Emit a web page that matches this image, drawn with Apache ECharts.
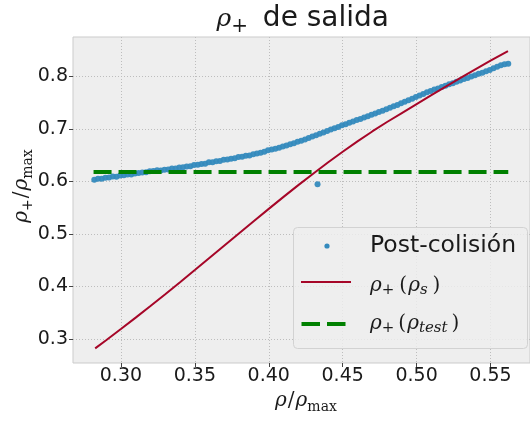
<!DOCTYPE html>
<html>
<head>
<meta charset="utf-8">
<script src="https://cdn.jsdelivr.net/npm/echarts@6/dist/echarts.min.js"></script>
<style>
  html, body { margin: 0; padding: 0; background: #ffffff; }
  #chart { width: 530px; height: 421px; }
</style>
</head>
<body>
<div id="chart"></div>
<script>
// Post-collision samples: [rho/rho_max, rho_plus/rho_max]
const postColision = [
  [0.2820, 0.6030], [0.2845, 0.6052], [0.2870, 0.6048], [0.2895, 0.6071], [0.2920, 0.6075],
  [0.2945, 0.6093], [0.2970, 0.6090], [0.2995, 0.6112], [0.3020, 0.6115], [0.3045, 0.6133],
  [0.3070, 0.6130], [0.3095, 0.6152], [0.3120, 0.6158], [0.3145, 0.6171], [0.3170, 0.6175],
  [0.3195, 0.6193], [0.3220, 0.6196], [0.3245, 0.6212], [0.3270, 0.6205], [0.3295, 0.6223],
  [0.3320, 0.6226], [0.3345, 0.6244], [0.3370, 0.6243], [0.3395, 0.6262], [0.3420, 0.6268],
  [0.3445, 0.6285], [0.3470, 0.6289], [0.3495, 0.6310], [0.3520, 0.6315], [0.3545, 0.6330],
  [0.3570, 0.6337], [0.3595, 0.6362], [0.3620, 0.6365], [0.3645, 0.6383], [0.3670, 0.6388],
  [0.3695, 0.6413], [0.3720, 0.6415], [0.3745, 0.6432], [0.3770, 0.6438], [0.3795, 0.6463],
  [0.3820, 0.6468], [0.3845, 0.6488], [0.3870, 0.6492], [0.3895, 0.6518], [0.3920, 0.6530],
  [0.3945, 0.6545], [0.3970, 0.6562], [0.3995, 0.6592], [0.4020, 0.6605], [0.4045, 0.6622],
  [0.4070, 0.6640], [0.4095, 0.6665], [0.4120, 0.6685], [0.4145, 0.6705], [0.4170, 0.6728],
  [0.4195, 0.6752], [0.4220, 0.6775], [0.4245, 0.6795], [0.4270, 0.6825], [0.4295, 0.6852],
  [0.4320, 0.6878], [0.4345, 0.6905], [0.4370, 0.6930], [0.4395, 0.6958], [0.4420, 0.6985],
  [0.4445, 0.7012], [0.4470, 0.7035], [0.4495, 0.7068], [0.4520, 0.7085], [0.4545, 0.7118],
  [0.4570, 0.7138], [0.4595, 0.7168], [0.4620, 0.7185], [0.4645, 0.7218], [0.4670, 0.7238],
  [0.4695, 0.7268], [0.4720, 0.7292], [0.4745, 0.7322], [0.4770, 0.7345], [0.4795, 0.7375],
  [0.4820, 0.7402], [0.4845, 0.7428], [0.4870, 0.7455], [0.4895, 0.7485], [0.4920, 0.7515],
  [0.4945, 0.7542], [0.4970, 0.7572], [0.4995, 0.7605], [0.5020, 0.7635], [0.5045, 0.7662],
  [0.5070, 0.7695], [0.5095, 0.7722], [0.5120, 0.7748], [0.5145, 0.7770], [0.5170, 0.7798],
  [0.5195, 0.7822], [0.5220, 0.7848], [0.5245, 0.7868], [0.5270, 0.7898], [0.5295, 0.7922],
  [0.5320, 0.7948], [0.5345, 0.7968], [0.5370, 0.7998], [0.5395, 0.8022], [0.5420, 0.8048],
  [0.5445, 0.8068], [0.5470, 0.8098], [0.5495, 0.8122], [0.5520, 0.8155], [0.5545, 0.8182],
  [0.5570, 0.8212], [0.5595, 0.8228], [0.5620, 0.8240],
  [0.4330, 0.5944]
];

// Theoretical curve rho_+(rho_s)
const rhoPlusS = [
  [0.2826, 0.2822], [0.2900, 0.2977], [0.3000, 0.3190], [0.3100, 0.3407], [0.3200, 0.3628],
  [0.3300, 0.3853], [0.3400, 0.4081], [0.3500, 0.4312], [0.3600, 0.4545], [0.3700, 0.4779],
  [0.3800, 0.5013], [0.3900, 0.5246], [0.4000, 0.5477], [0.4100, 0.5705], [0.4200, 0.5929],
  [0.4300, 0.6146], [0.4400, 0.6358], [0.4500, 0.6564], [0.4600, 0.6762], [0.4700, 0.6950],
  [0.4800, 0.7130], [0.4900, 0.7300], [0.5000, 0.7470], [0.5100, 0.7640], [0.5200, 0.7808],
  [0.5300, 0.7974], [0.5400, 0.8138], [0.5500, 0.8298], [0.5618, 0.8480]
];

// Constant level rho_+(rho_test)
const rhoTestLevel = 0.6178;
const rhoTestRange = [0.2815, 0.5620];

const xTicks = [0.30, 0.35, 0.40, 0.45, 0.50, 0.55];
const yTicks = [0.3, 0.4, 0.5, 0.6, 0.7, 0.8];

const BLUE = '#348ABD';
const RED = '#A60628';
const GREEN = '#008000';
const INK = '#1a1a1a';
const SERIF = '"DejaVu Serif", "Liberation Serif", serif';
const SANS = '"DejaVu Sans", sans-serif';

// rich-text styles for the math-like labels (shift = subscript drop in px)
const mathRich = (size, subSize, shift, padAfterSub) => ({
  r: { fontFamily: SERIF, fontStyle: 'italic', fontSize: size, fill: INK },
  n: { fontFamily: SERIF, fontSize: size, fill: INK, padding: [0, 1, 0, 1] },
  sub: { fontFamily: SERIF, fontSize: subSize, padding: [shift * 2, padAfterSub, 0, 0], fill: INK },
  subi: { fontFamily: SERIF, fontStyle: 'italic', fontSize: subSize, padding: [shift * 2, padAfterSub, 0, 0], fill: INK },
  t: { fontFamily: SANS, fontSize: 28, fill: INK }
});

const chart = echarts.init(document.getElementById('chart'), null, { renderer: 'canvas' });

chart.setOption({
  animation: false,
  backgroundColor: '#ffffff',
  grid: {
    show: true, backgroundColor: '#eeeeee', borderColor: '#cbcbcb', borderWidth: 1,
    left: 73, top: 37, right: -11, bottom: 58, containLabel: false
  },
  xAxis: {
    type: 'value', min: 0.2676, max: 0.5767, splitNumber: 6,
    axisLine: { show: false },
    axisTick: { show: true, length: 4, lineStyle: { color: '#444' }, customValues: xTicks },
    axisLabel: {
      customValues: xTicks, margin: 4, color: INK, fontFamily: SANS, fontSize: 19,
      formatter: v => v.toFixed(2)
    },
    splitLine: { show: true, lineStyle: { color: '#bdbdbd', width: 1, type: [1, 2] } }
  },
  yAxis: {
    type: 'value', min: 0.2543, max: 0.8748, splitNumber: 6,
    axisLine: { show: false },
    axisTick: { show: true, length: 4, lineStyle: { color: '#444' }, customValues: yTicks },
    axisLabel: {
      customValues: yTicks, margin: 5, color: INK, fontFamily: SANS, fontSize: 19,
      formatter: v => v.toFixed(1)
    },
    splitLine: { show: true, lineStyle: { color: '#bdbdbd', width: 1, type: [1, 2] } }
  },
  series: [
    {
      name: 'Post-colisión', type: 'scatter', data: postColision,
      symbol: 'circle', symbolSize: 6,
      itemStyle: { color: BLUE, opacity: 0.95 }, z: 2, silent: true
    },
    {
      name: 'rho_s', type: 'line', data: rhoPlusS, showSymbol: false, smooth: false,
      lineStyle: { color: RED, width: 2 }, z: 3, silent: true
    },
    {
      name: 'rho_test', type: 'line',
      data: [[rhoTestRange[0], rhoTestLevel], [rhoTestRange[1], rhoTestLevel]],
      showSymbol: false,
      lineStyle: { color: GREEN, width: 4, type: [18, 7], cap: 'butt' }, z: 4, silent: true
    }
  ],
  graphic: [
    // title
    {
      type: 'text', x: 389, y: 19, z: 10,
      style: {
        text: '{r|ρ}{sub|+}{t| de salida}', align: 'right', verticalAlign: 'middle',
        rich: mathRich(25, 20, 8, 6)
      }
    },
    // x axis name
    {
      type: 'text', x: 306, y: 401, z: 10,
      style: {
        text: '{r|ρ}{n|/}{r|ρ}{sub|max}', align: 'center', verticalAlign: 'middle',
        rich: mathRich(20, 14, 6, 0)
      }
    },
    // y axis name
    {
      type: 'text', x: 22, y: 186, rotation: Math.PI / 2, z: 10,
      style: {
        text: '{r|ρ}{sub|+}{n|/}{r|ρ}{sub|max}', align: 'center', verticalAlign: 'middle',
        rich: mathRich(20, 14, 6, 0)
      }
    },
    // legend frame
    {
      type: 'rect', z: 20,
      shape: { x: 293.5, y: 227.5, width: 234, height: 121, r: 4 },
      style: { fill: 'rgba(238,238,238,0.82)', stroke: '#d2d2d2', lineWidth: 1 }
    },
    { type: 'circle', z: 21, shape: { cx: 327, cy: 246, r: 2.6 }, style: { fill: BLUE } },
    {
      type: 'text', z: 21, x: 370, y: 246,
      style: { text: 'Post-colisión', fontFamily: SANS, fontSize: 23.5, fill: INK, verticalAlign: 'middle' }
    },
    { type: 'line', z: 21, shape: { x1: 301, y1: 282, x2: 351, y2: 282 }, style: { stroke: RED, lineWidth: 2 } },
    {
      type: 'text', z: 21, x: 370, y: 286,
      style: { text: '{r|ρ}{sub|+}{n|(}{r|ρ}{subi|s}{n|)}', verticalAlign: 'middle', rich: mathRich(20, 15, 4, 4) }
    },
    { type: 'line', z: 21, shape: { x1: 301.5, y1: 324, x2: 320, y2: 324 }, style: { stroke: GREEN, lineWidth: 4 } },
    { type: 'line', z: 21, shape: { x1: 327, y1: 324, x2: 345.5, y2: 324 }, style: { stroke: GREEN, lineWidth: 4 } },
    {
      type: 'text', z: 21, x: 370, y: 324,
      style: { text: '{r|ρ}{sub|+}{n|(}{r|ρ}{subi|test}{n|)}', verticalAlign: 'middle', rich: mathRich(20, 15, 4, 3) }
    }
  ]
});
</script>
</body>
</html>
